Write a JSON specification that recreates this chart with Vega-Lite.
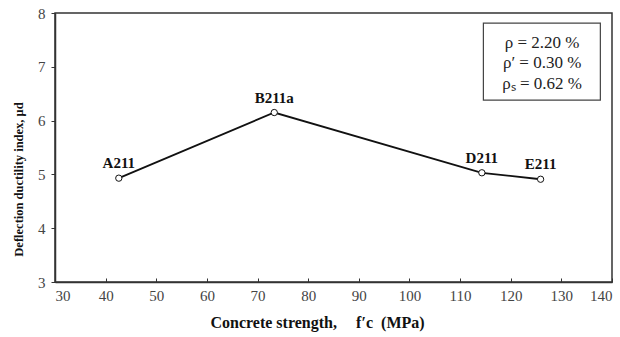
{
  "$schema": "https://vega.github.io/schema/vega-lite/v6.json",
  "autosize": {"type": "none"},
  "width": 557,
  "height": 269,
  "padding": {"left": 55, "top": 13, "right": 8, "bottom": 55},
  "background": "white",
  "config": {
    "view": {"stroke": "#333", "strokeWidth": 1.5},
    "font": "Liberation Serif",
    "axis": {"labelFont": "Liberation Serif", "titleFont": "Liberation Serif"},
    "text": {"font": "Liberation Serif"}
  },
  "datasets": {
    "pts": [
      {"fc": 42.6, "mu": 4.93, "name": "A211"},
      {"fc": 73.3, "mu": 6.15, "name": "B211a"},
      {"fc": 114.3, "mu": 5.03, "name": "D211"},
      {"fc": 125.9, "mu": 4.91, "name": "E211"}
    ],
    "box": [{"x1": 114.6, "x2": 137.7, "y1": 6.38, "y2": 7.81}],
    "notes": [
      {"x": 126.2, "y": 7.44, "t": "ρ = 2.20 %"},
      {"x": 126.2, "y": 7.07, "t": "ρ′ = 0.30 %"},
      {"x": 126.2, "y": 6.68, "t": "ρₛ = 0.62 %"}
    ]
  },
  "encoding": {
    "x": {
      "field": "fc", "type": "quantitative",
      "scale": {"domain": [30, 140], "nice": false},
      "axis": {
        "title": "Concrete strength,\u2003\u2009f′c\u2002(MPa)",
        "titleX": 262,
        "values": [30,40,50,60,70,80,90,100,110,120,130,140],
        "grid": false, "tickSize": -4, "tickColor": "#333", "domainColor": "#333", "domainWidth": 1.5,
        "labelFontSize": 15, "labelColor": "#444", "labelPadding": 10,
        "titleFontSize": 16, "titleFontWeight": "bold", "titleColor": "#111", "titlePadding": 11
      }
    },
    "y": {
      "field": "mu", "type": "quantitative",
      "scale": {"domain": [3, 8], "nice": false},
      "axis": {
        "title": "Deflection ductility index, μd",
        "titleY": 166,
        "values": [3,4,5,6,7,8],
        "grid": false, "tickSize": 4, "tickColor": "#333", "domainColor": "#333", "domainWidth": 1.5,
        "labelFontSize": 15, "labelColor": "#444", "labelPadding": 6,
        "titleFontSize": 12.5, "titleFontWeight": "bold", "titleColor": "#111", "titlePadding": 12
      }
    }
  },
  "layer": [
    {
      "data": {"name": "box"},
      "mark": {"type": "rect", "fill": "white", "stroke": "#444", "strokeWidth": 1.2},
      "encoding": {
        "x": {"field": "x1", "type": "quantitative"},
        "x2": {"field": "x2"},
        "y": {"field": "y1", "type": "quantitative"},
        "y2": {"field": "y2"}
      }
    },
    {
      "data": {"name": "notes"},
      "mark": {"type": "text", "fontSize": 17, "color": "#222"},
      "encoding": {
        "x": {"field": "x", "type": "quantitative"},
        "y": {"field": "y", "type": "quantitative"},
        "text": {"field": "t"}
      }
    },
    {
      "data": {"name": "pts"},
      "mark": {"type": "line", "color": "#111", "strokeWidth": 1.8}
    },
    {
      "data": {"name": "pts"},
      "mark": {"type": "point", "filled": true, "fill": "white", "stroke": "#111", "strokeWidth": 1, "size": 40, "opacity": 1}
    },
    {
      "data": {"name": "pts"},
      "mark": {"type": "text", "dy": -15, "fontSize": 15, "fontWeight": "bold", "color": "#111"},
      "encoding": {"text": {"field": "name"}}
    }
  ]
}
